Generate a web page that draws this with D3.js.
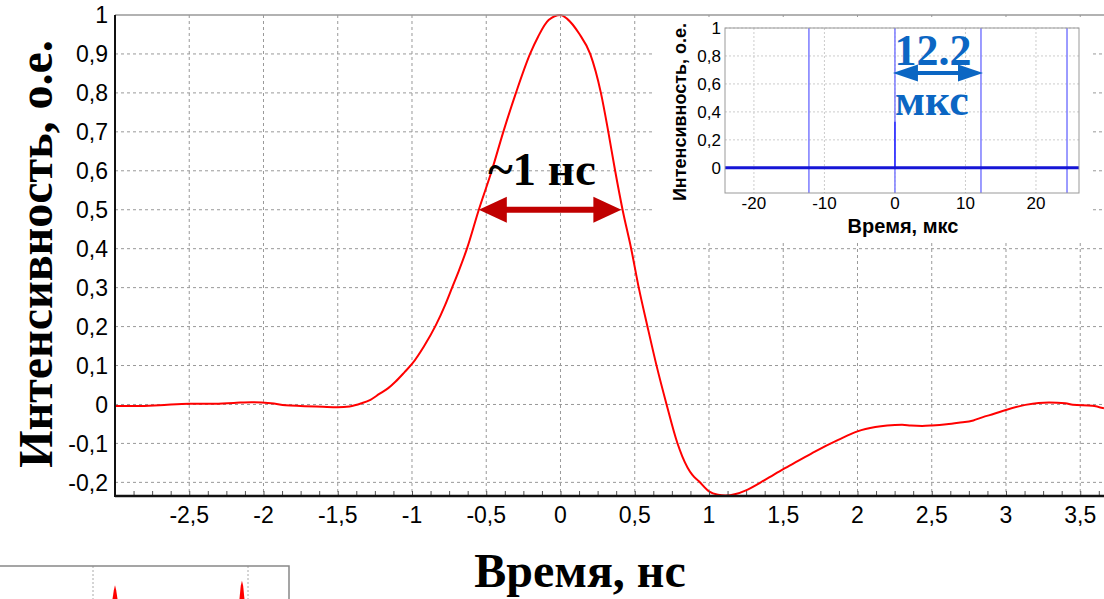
<!DOCTYPE html>
<html>
<head>
<meta charset="utf-8">
<script src="https://cdn.jsdelivr.net/npm/d3@7"></script>
<style>
  html, body { margin: 0; padding: 0; background: #fff; }
  svg { display: block; }
  .tick-lbl { font-family: "Liberation Sans", Arial, sans-serif; fill: #000; }
  .serif-b { font-family: "Liberation Serif", "Times New Roman", serif; font-weight: bold; }
</style>
</head>
<body>
<div class="render"></div>
<script>
"use strict";

var width = 1104;
var height = 599;

// main pulse, time in ns, intensity in a.u.
var timeNs = [-3.00, -2.85, -2.70, -2.50, -2.35, -2.20, -2.08, -1.95, -1.85, -1.75, -1.60, -1.50, -1.42, -1.34, -1.28, -1.22, -1.16, -1.11, -1.05, -1.00,
  -0.92, -0.84, -0.775, -0.73, -0.686, -0.63, -0.55, -0.463, -0.385, -0.30, -0.205, -0.15, -0.08, 0.00, 0.045, 0.124, 0.20, 0.272, 0.322, 0.368,
  0.418, 0.476, 0.527, 0.584, 0.646, 0.713, 0.787, 0.82, 0.888, 0.932, 1.00, 1.06, 1.11, 1.18, 1.245, 1.38, 1.50, 1.60, 1.713,
  1.87, 2.00, 2.12, 2.20, 2.30, 2.36, 2.435, 2.50, 2.60, 2.68, 2.78, 2.84, 2.92, 3.00, 3.13, 3.22, 3.29, 3.40, 3.45, 3.58, 3.66];
var intensity = [-0.004, -0.004, -0.002, 0.002, 0.002, 0.004, 0.006, 0.003, -0.002, -0.004, -0.006, -0.007, -0.005, 0.003, 0.012, 0.027, 0.042, 0.059, 0.083, 0.104,
  0.149, 0.203, 0.257, 0.300, 0.342, 0.400, 0.500, 0.600, 0.700, 0.800, 0.900, 0.945, 0.987, 1.000, 0.990, 0.953, 0.900, 0.800, 0.700, 0.600,
  0.500, 0.400, 0.300, 0.203, 0.101, 0.002, -0.099, -0.133, -0.181, -0.197, -0.223, -0.232, -0.234, -0.230, -0.221, -0.193, -0.166, -0.145, -0.121,
  -0.091, -0.069, -0.058, -0.054, -0.052, -0.054, -0.055, -0.054, -0.051, -0.047, -0.041, -0.033, -0.024, -0.014, -0.001, 0.004, 0.005, 0.003, -0.001, -0.003, -0.010];

var xTicks = [-2.5, -2, -1.5, -1, -0.5, 0, 0.5, 1, 1.5, 2, 2.5, 3, 3.5];
var yTicks = [1, 0.9, 0.8, 0.7, 0.6, 0.5, 0.4, 0.3, 0.2, 0.1, 0, -0.1, -0.2];
var fwhm = [-0.55, 0.41];

// inset: pulse train, time in us
var insetPulses = [-12.2, 0, 12.2, 24.4];
var insetCentralPeak = 0.33;
var insetXTicks = [-20, -10, 0, 10, 20];
var insetYTicks = [0, 0.2, 0.4, 0.6, 0.8, 1];
var period = [0, 12.2];

// cut-off fragment of another plot at the bottom left
var fragGrid = [0, 10];
var fragSpikes = [1.42, 9.61];
var fragSpikeTops = [0.74, 0.8];

var fmt = function (d) { return String(d).replace(".", ","); };

var svg = d3.select(".render").append("svg").attr("width", width).attr("height", height);
svg.append("rect").attr("width", width).attr("height", height).attr("fill", "#fff");

var x = d3.scaleLinear().domain([-3, 3.66]).range([115, 1104]);
var y = d3.scaleLinear().domain([-0.235, 1]).range([496, 15]);

svg.append("clipPath").attr("id", "plotclip").append("rect")
  .attr("x", 115).attr("y", 14).attr("width", 989).attr("height", 483);

var plot = svg.append("g").attr("clip-path", "url(#plotclip)");

// grid
plot.selectAll(".vgrid").data(xTicks).enter().append("line")
  .attr("x1", function (d) { return x(d); }).attr("x2", function (d) { return x(d); })
  .attr("y1", 15).attr("y2", 496)
  .attr("stroke", "#999").attr("stroke-dasharray", "3,3");
plot.selectAll(".hgrid").data(yTicks.filter(function (d) { return d < 1; })).enter().append("line")
  .attr("x1", 115).attr("x2", 1104)
  .attr("y1", function (d) { return y(d); }).attr("y2", function (d) { return y(d); })
  .attr("stroke", "#999").attr("stroke-dasharray", "3,3");

var line = d3.line()
  .x(function (d, i) { return x(timeNs[i]); })
  .y(function (d) { return y(d); })
  .curve(d3.curveMonotoneX);
plot.append("path").datum(intensity).attr("d", line)
  .attr("fill", "none").attr("stroke", "#ff0000").attr("stroke-width", 2);

// minor ticks on bottom axis
var minor = d3.range(-3, 3.66, 0.125);
svg.append("g").attr("transform", "translate(0,496)")
  .call(d3.axisBottom(x).tickValues(minor).tickSize(-5).tickFormat(""))
  .call(function (g) { g.select(".domain").remove(); })
  .selectAll("line").attr("stroke", "#555");

// frame
svg.append("line").attr("x1", 115).attr("x2", 1104).attr("y1", 15).attr("y2", 15).attr("stroke", "#999").attr("stroke-width", 1.5);
svg.append("line").attr("x1", 115).attr("x2", 1104).attr("y1", 496).attr("y2", 496).attr("stroke", "#111").attr("stroke-width", 2.5);
svg.append("line").attr("x1", 115).attr("x2", 115).attr("y1", 15).attr("y2", 497).attr("stroke", "#111").attr("stroke-width", 2);

// tick labels
svg.selectAll(".ylbl").data(yTicks).enter().append("text")
  .attr("class", "tick-lbl").attr("x", 108).attr("y", function (d) { return y(d); })
  .attr("dy", "0.36em").attr("text-anchor", "end").style("font-size", "23px")
  .text(fmt);
svg.selectAll(".xlbl").data(xTicks).enter().append("text")
  .attr("class", "tick-lbl").attr("x", function (d) { return x(d); }).attr("y", 523)
  .attr("text-anchor", "middle").style("font-size", "23px")
  .text(fmt);

// axis titles
svg.append("text").attr("class", "serif-b")
  .attr("transform", "translate(52,254) rotate(-90)")
  .attr("text-anchor", "middle").style("font-size", "48px")
  .text("Интенсивность, о.е.");
svg.append("text").attr("class", "serif-b")
  .attr("x", 580).attr("y", 587)
  .attr("text-anchor", "middle").style("font-size", "48px")
  .text("Время, нс");

// FWHM arrow
function doubleArrow(g, x1, x2, yy, color, headLen, headHalf, shaft) {
  g.append("line").attr("x1", x1 + headLen - 2).attr("x2", x2 - headLen + 2)
    .attr("y1", yy).attr("y2", yy).attr("stroke", color).attr("stroke-width", shaft);
  g.append("path").attr("fill", color)
    .attr("d", "M" + x1 + "," + yy + "L" + (x1 + headLen) + "," + (yy - headHalf) + "L" + (x1 + headLen) + "," + (yy + headHalf) + "Z");
  g.append("path").attr("fill", color)
    .attr("d", "M" + x2 + "," + yy + "L" + (x2 - headLen) + "," + (yy - headHalf) + "L" + (x2 - headLen) + "," + (yy + headHalf) + "Z");
}
doubleArrow(svg, x(fwhm[0]), x(fwhm[1]), y(0.5), "#c00000", 28, 13, 6);
svg.append("text").attr("class", "serif-b")
  .attr("x", 542).attr("y", 185).attr("text-anchor", "middle")
  .style("font-size", "47px").text("~1 нс");

// inset
var ins = svg.append("g");
ins.append("rect").attr("x", 652).attr("y", 17).attr("width", 440).attr("height", 224).attr("fill", "#fff");

var ix = d3.scaleLinear().domain([-24.1, 26.1]).range([725, 1079]);
var iy = d3.scaleLinear().domain([-0.18, 1]).range([193, 28]);

ins.selectAll(".ivg").data(insetXTicks).enter().append("line")
  .attr("x1", function (d) { return ix(d); }).attr("x2", function (d) { return ix(d); })
  .attr("y1", 28).attr("y2", 193).attr("stroke", "#ccc").attr("stroke-dasharray", "2,2");
ins.selectAll(".ihg").data(insetYTicks).enter().append("line")
  .attr("x1", 725).attr("x2", 1079)
  .attr("y1", function (d) { return iy(d); }).attr("y2", function (d) { return iy(d); })
  .attr("stroke", "#ccc").attr("stroke-dasharray", "2,2");

ins.selectAll(".pulse").data(insetPulses).enter().append("line")
  .attr("x1", function (d) { return ix(d); }).attr("x2", function (d) { return ix(d); })
  .attr("y1", 28).attr("y2", 193).attr("stroke", "#7b7bff").attr("stroke-width", 1.5);
ins.append("line").attr("x1", ix(0)).attr("x2", ix(0)).attr("y1", iy(insetCentralPeak)).attr("y2", iy(0))
  .attr("stroke", "#2a2aff").attr("stroke-width", 1.5);
ins.append("line").attr("x1", 725).attr("x2", 1079).attr("y1", iy(0)).attr("y2", iy(0))
  .attr("stroke", "#1515d6").attr("stroke-width", 3);

ins.append("rect").attr("x", 725).attr("y", 28).attr("width", 354).attr("height", 165)
  .attr("fill", "none").attr("stroke", "#999").attr("stroke-width", 1);

ins.selectAll(".iyl").data(insetYTicks).enter().append("text")
  .attr("class", "tick-lbl").attr("x", 721).attr("y", function (d) { return iy(d); })
  .attr("dy", "0.36em").attr("text-anchor", "end").style("font-size", "17px")
  .text(fmt);
ins.selectAll(".ixl").data(insetXTicks).enter().append("text")
  .attr("class", "tick-lbl").attr("x", function (d) { return ix(d); }).attr("y", 209)
  .attr("text-anchor", "middle").style("font-size", "17px")
  .text(fmt);
ins.append("text").attr("class", "tick-lbl")
  .attr("x", 903).attr("y", 233).attr("text-anchor", "middle")
  .style("font-size", "20px").style("font-weight", "bold").text("Время, мкс");
ins.append("text").attr("class", "tick-lbl")
  .attr("transform", "translate(686,112) rotate(-90)").attr("text-anchor", "middle")
  .style("font-size", "18px").style("font-weight", "bold").text("Интенсивность, о.е.");

doubleArrow(ins, ix(period[0]) - 2, ix(period[1]) + 2, 73, "#0b66c3", 25, 8.5, 4);
ins.append("text").attr("class", "serif-b").attr("x", 933).attr("y", 65)
  .attr("text-anchor", "middle").attr("fill", "#0b66c3").style("font-size", "44px").text("12.2");
ins.append("text").attr("class", "serif-b").attr("x", 932).attr("y", 115)
  .attr("text-anchor", "middle").attr("fill", "#0b66c3").style("font-size", "44px").text("мкс");

// fragment of the next figure, bottom left
var fx = d3.scaleLinear().domain(fragGrid).range([93, 248]);
var fy = d3.scaleLinear().domain([0, 1]).range([640, 566]);
var frag = svg.append("g");
frag.selectAll(".fg").data(fragGrid).enter().append("line")
  .attr("x1", function (d) { return fx(d); }).attr("x2", function (d) { return fx(d); })
  .attr("y1", 566).attr("y2", 599).attr("stroke", "#aaa").attr("stroke-dasharray", "2,2");
frag.append("path").attr("d", "M0,566H289V599").attr("fill", "none").attr("stroke", "#888").attr("stroke-width", 1.5);
frag.selectAll(".spk").data(fragSpikes).enter().append("path")
  .attr("fill", "#ff0000")
  .attr("d", function (d, i) {
    var cx = fx(d), top = fy(fragSpikeTops[i]);
    return "M" + (cx - 2.5) + ",599L" + (cx - 1.2) + "," + (top + 5) + "L" + cx + "," + top +
      "L" + (cx + 1.2) + "," + (top + 5) + "L" + (cx + 2.5) + ",599Z";
  });
</script>
</body>
</html>
